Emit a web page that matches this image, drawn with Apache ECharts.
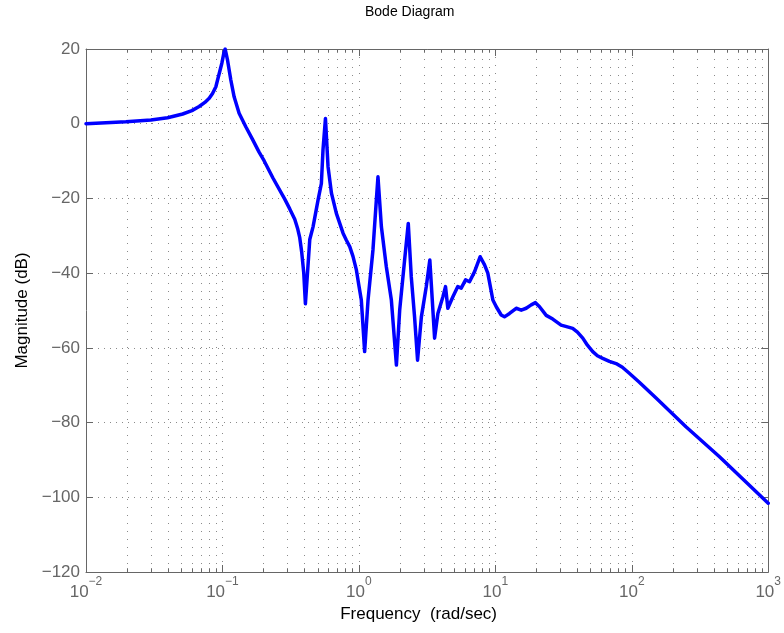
<!DOCTYPE html>
<html>
<head>
<meta charset="utf-8">
<title>Bode Diagram</title>
<script src="https://cdn.jsdelivr.net/npm/echarts@6/dist/echarts.min.js"></script>
<style>
  html, body { margin: 0; padding: 0; background: #fff; }
  #chart { width: 784px; height: 633px; }
</style>
</head>
<body>
<div id="chart"></div>
<script>
  // 频率 (rad/sec)
  var freq = [
    0.0100, 0.0140, 0.0196, 0.0299, 0.0396, 0.0511, 0.0597, 0.0675, 0.0743, 0.0800,
    0.0846, 0.0895, 0.0921, 0.0990, 0.1024, 0.1047, 0.1090, 0.1152, 0.1218, 0.1325,
    0.1483, 0.1661, 0.1856, 0.2019, 0.2350, 0.2862, 0.3114, 0.3388, 0.3565, 0.3686,
    0.3813, 0.3945, 0.4055, 0.4365, 0.4613, 0.5023, 0.5309, 0.5458, 0.5689, 0.5943,
    0.6295, 0.6839, 0.7656, 0.8100, 0.8570, 0.9053, 0.9594, 0.9965, 1.042, 1.102,
    1.167, 1.268, 1.343, 1.380, 1.462, 1.589, 1.730, 1.884, 1.991, 2.163,
    2.301, 2.421, 2.559, 2.692, 2.871, 3.119, 3.311, 3.451, 3.589, 3.793,
    4.130, 4.315, 4.487, 4.887, 5.309, 5.623, 6.053, 6.471, 7.047, 7.745,
    8.337, 8.810, 9.594, 10.16, 11.04, 11.67, 12.71, 14.22, 15.49, 16.83,
    18.32, 19.68, 21.09, 23.60, 26.36, 30.34, 33.77, 36.90, 39.98, 43.75,
    47.32, 51.76, 56.01, 61.24, 68.55, 76.74, 85.35, 95.94, 113.6, 150.7,
    249.5, 437.5, 1000
  ];
  // 幅值 (dB)
  var magnitude = [
    0, 0.25, 0.5, 1.0, 1.6, 2.6, 3.5, 4.6, 5.7, 6.8,
    8.1, 9.9, 11.7, 16.2, 18.9, 20, 17, 11.7, 7.2, 2.8,
    -0.8, -4.2, -7.6, -9.9, -14.6, -20.2, -22.8, -25.6, -28.2, -30.5,
    -34.5, -40, -48.2, -31, -27.6, -20.4, -16, -7, 1.4, -11.5,
    -18.6, -24, -29.3, -31.2, -32.9, -35.5, -39.2, -43, -47.2, -61,
    -47.2, -33.8, -20.4, -14.2, -27.6, -38.3, -47.2, -64.6, -49.9, -36.5,
    -26.7, -41, -51.7, -63.3, -51.7, -43.6, -36.5, -47.2, -57.4, -50.8,
    -46.3, -43.6, -49.4, -46.3, -43.6, -44, -41.8, -42.3, -39.6, -35.6,
    -37.8, -40, -47.2, -49, -51.2, -51.7, -50.8, -49.4, -49.9, -49.4,
    -48.5, -47.9, -49, -51.3, -52.3, -53.9, -54.4, -54.8, -55.8, -57.4,
    -59.3, -61, -62.1, -62.8, -63.6, -64.2, -65.2, -66.8, -69.2, -73.4,
    -81.1, -89.1, -101.6
  ];
  // 坐标轴范围
  var xRange = [0.01, 1000];
  var yRange = [-120, 20];
  var yStep = 20;
  var decades = [0.01, 0.1, 1, 10, 100];
  var minorSteps = [2, 3, 4, 5, 6, 7, 8, 9];

  var axisColor = '#666';
  var fontFamily = '"Liberation Sans", Arial, Helvetica, sans-serif';
  var hGridLine = { color: '#8a8a8a', width: 1, type: [1, 5] };
  var vGridLine = { color: '#8a8a8a', width: 1, type: [1, 7] };

  var points = freq.map(function (f, i) { return [f, magnitude[i]]; });

  // 对数坐标的次网格和次刻度
  var marks = [];
  decades.forEach(function (d) {
    minorSteps.forEach(function (m) {
      var v = m * d;
      marks.push({ xAxis: v, lineStyle: vGridLine });
      marks.push([{ coord: [v, yRange[0]], lineStyle: { color: axisColor, width: 1, type: 'solid' } }, { coord: [v, yRange[0] + 1] }]);
      marks.push([{ coord: [v, yRange[1]], lineStyle: { color: axisColor, width: 1, type: 'solid' } }, { coord: [v, yRange[1] - 1] }]);
    });
  });

  function minus(s) { return String(s).replace('-', '\u2212'); }

  var xAxisBase = {
    type: 'log',
    logBase: 10,
    min: xRange[0],
    max: xRange[1],
    axisLine: { show: true, onZero: false, lineStyle: { color: axisColor, width: 1 } },
    axisTick: { show: true, inside: true, length: 7, lineStyle: { color: axisColor } }
  };
  var yAxisBase = {
    type: 'value',
    min: yRange[0],
    max: yRange[1],
    interval: yStep,
    axisLine: { show: true, onZero: false, lineStyle: { color: axisColor, width: 1 } },
    axisTick: { show: true, inside: true, length: 7, lineStyle: { color: axisColor } }
  };

  var option = {
    animation: false,
    backgroundColor: '#fff',
    title: {
      text: 'Bode Diagram',
      left: 360,
      top: 0,
      textStyle: { fontSize: 14, fontWeight: 'normal', color: '#000', fontFamily: fontFamily }
    },
    grid: { left: 86, right: 15, top: 49, bottom: 61 },
    xAxis: [
      Object.assign({}, xAxisBase, {
        position: 'bottom',
        name: 'Frequency  (rad/sec)',
        nameLocation: 'middle',
        nameGap: 30,
        nameTextStyle: { fontSize: 17, color: '#000', fontFamily: fontFamily, padding: [0, 17, 0, 0] },
        axisLabel: {
          margin: 4,
          formatter: function (v) {
            var e = Math.round(Math.log10(v));
            return '{b|10}{e|' + minus(e) + '}';
          },
          rich: {
            b: { fontSize: 17, color: axisColor, fontFamily: fontFamily, lineHeight: 25, verticalAlign: 'bottom' },
            e: { fontSize: 12, color: axisColor, fontFamily: fontFamily, lineHeight: 25, verticalAlign: 'top' }
          }
        },
        splitLine: { show: true, lineStyle: vGridLine }
      }),
      Object.assign({}, xAxisBase, {
        position: 'top',
        axisLabel: { show: false },
        splitLine: { show: false }
      })
    ],
    yAxis: [
      Object.assign({}, yAxisBase, {
        position: 'left',
        name: 'Magnitude (dB)',
        nameLocation: 'middle',
        nameGap: 55,
        nameTextStyle: { fontSize: 17, color: '#000', fontFamily: fontFamily },
        axisLabel: {
          margin: 6,
          fontSize: 17,
          color: axisColor,
          fontFamily: fontFamily,
          formatter: function (v) { return minus(v); }
        },
        splitLine: { show: true, lineStyle: hGridLine }
      }),
      Object.assign({}, yAxisBase, {
        position: 'right',
        axisLabel: { show: false },
        splitLine: { show: false }
      })
    ],
    series: [{
      type: 'line',
      xAxisIndex: 0,
      yAxisIndex: 0,
      data: points,
      showSymbol: false,
      symbol: 'none',
      lineStyle: { color: '#0000ff', width: 3.5, join: 'round', cap: 'round' },
      z: 5,
      markLine: {
        silent: true,
        symbol: ['none', 'none'],
        label: { show: false },
        animation: false,
        z: 1,
        data: marks
      }
    }]
  };

  var myChart = echarts.init(document.getElementById('chart'));
  myChart.setOption(option);
</script>
</body>
</html>
